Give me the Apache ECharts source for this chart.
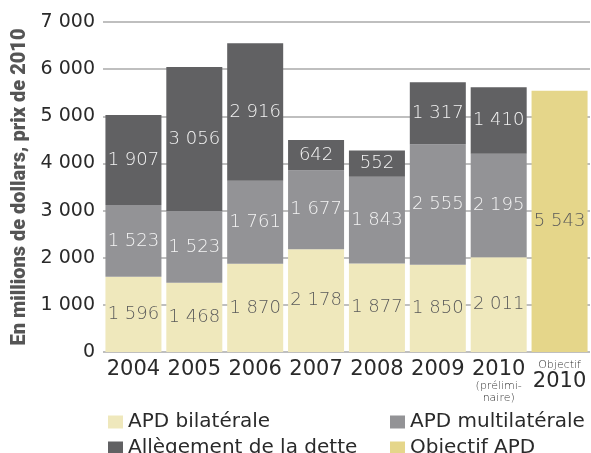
<!DOCTYPE html>
<html><head><meta charset="utf-8">
<script src="https://cdn.jsdelivr.net/npm/echarts@6/dist/echarts.min.js"></script>
<style>html,body{margin:0;padding:0;background:#fff}#c{width:591px;height:453px}</style>
</head><body><div id="c"></div>
<script>
var categories = ['2004','2005','2006','2007','2008','2009','2010p','Objectif2010'];
var bilaterale = [1596,1468,1870,2178,1877,1850,2011,null];
var multilaterale = [1523,1523,1761,1677,1843,2555,2195,null];
var allegement = [1907,3056,2916,642,552,1317,1410,null];
var objectif = [null,null,null,null,null,null,null,5543];
var yTicks = [0,1000,2000,3000,4000,5000,6000,7000];

var F = '"DejaVu Sans", sans-serif';
function fmtNum(v){ return String(v).replace(/\B(?=(\d{3})+(?!\d))/g,' '); }
function lab(color){
  return {show:true, position:'inside', color:color, fontSize:18, fontFamily:F, fontWeight:200,
    formatter:function(p){ return p.value==null?'':fmtNum(p.value); }};
}
function leg(name, left, top){
  return {data:[name], left:left, top:top, itemWidth:15, itemHeight:13, icon:'rect',
    textStyle:{fontSize:20, fontFamily:F, fontWeight:'normal', color:'#2a2a2a'}};
}
var chart = echarts.init(document.getElementById('c'), null, {renderer:'canvas'});
chart.setOption({
  animation:false,
  grid:{left:103, right:1, top:22, bottom:101},
  legend:[
    leg('APD bilatérale',103,407),
    leg('Allègement de la dette',103,433),
    leg('APD multilatérale',385,407),
    leg('Objectif APD',385,433)
  ],
  xAxis:{type:'category', data:categories,
    axisLine:{show:false}, axisTick:{show:false},
    axisLabel:{margin:7, interval:0, fontFamily:F, color:'#2a2a2a',
      formatter:function(v){
        if(v==='2010p') return '{y|2010}\n{s|(prélimi-}\n{s|naire)}';
        if(v==='Objectif2010') return '{s|Objectif}\n{y|2010}';
        return '{y|'+v+'}';
      },
      rich:{y:{fontSize:21, lineHeight:21, fontFamily:F, color:'#2a2a2a'},
            s:{fontSize:11, lineHeight:12, fontFamily:F, fontWeight:200, color:'#333'}}}
  },
  yAxis:{type:'value', min:0, max:7000, interval:1000,
    name:'En millions de dollars, prix de 2010', nameLocation:'middle', nameGap:70,
    nameTextStyle:{fontSize:20, fontWeight:900, fontFamily:'Roboto, sans-serif', color:'#555'},
    axisLine:{show:false}, axisTick:{show:false},
    axisLabel:{margin:8, fontSize:19, fontFamily:F, color:'#2a2a2a',
      formatter:function(v){ return fmtNum(v); }},
    splitLine:{lineStyle:{color:'#aaaaaa', width:1.5}}
  },
  series:[
    {name:'APD bilatérale', type:'bar', stack:'t', data:bilaterale, barCategoryGap:'8%',
     itemStyle:{color:'#efe8bc'}, label:lab('#5a5a5a')},
    {name:'APD multilatérale', type:'bar', stack:'t', data:multilaterale,
     itemStyle:{color:'#939396'}, label:lab('#f4f4f4')},
    {name:'Allègement de la dette', type:'bar', stack:'t', data:allegement,
     itemStyle:{color:'#616163'}, label:lab('#f4f4f4')},
    {name:'Objectif APD', type:'bar', stack:'t', data:objectif,
     itemStyle:{color:'#e5d68a'}, label:lab('#5a5a5a')}
  ]
});
</script></body></html>
